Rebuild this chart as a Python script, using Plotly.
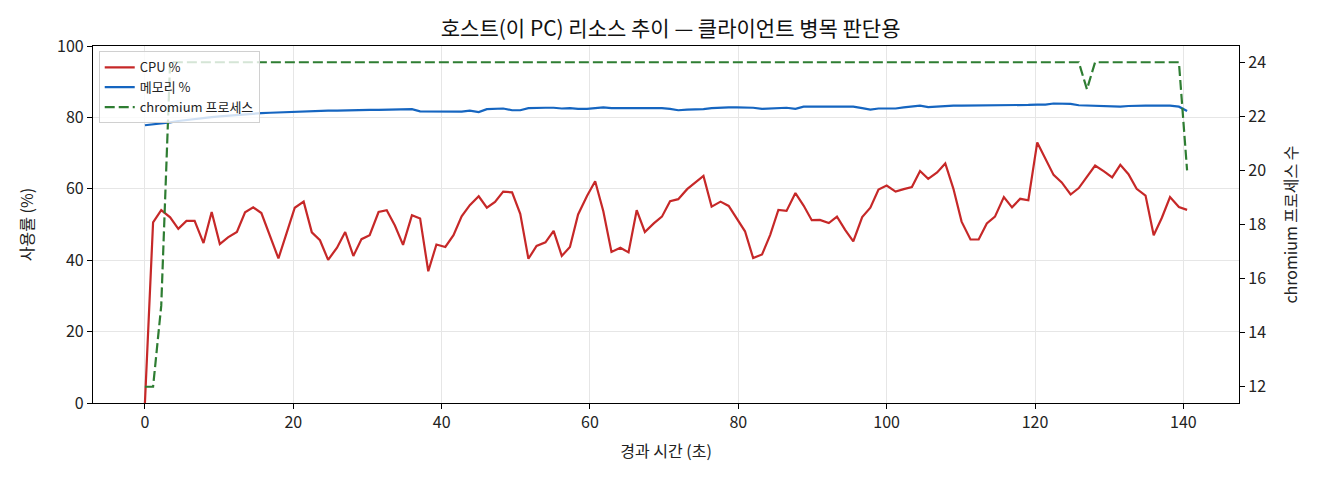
import plotly.graph_objects as go

# elapsed time (s)
time_s = [0.0, 1.1, 2.2, 3.4, 4.5, 5.6, 6.7, 7.9, 9.0, 10.1, 11.2, 12.4, 13.5, 14.6, 15.7, 16.9,
          18.0, 19.1, 20.2, 21.4, 22.5, 23.6, 24.7, 25.9, 27.0, 28.1, 29.2, 30.3, 31.5, 32.6,
          33.7, 34.8, 36.0, 37.1, 38.2, 39.3, 40.5, 41.6, 42.7, 43.8, 45.0, 46.1, 47.2, 48.3,
          49.5, 50.6, 51.7, 52.8, 54.0, 55.1, 56.2, 57.3, 58.4, 59.6, 60.7, 61.8, 62.9, 64.1,
          65.2, 66.3, 67.4, 68.6, 69.7, 70.8, 71.9, 73.1, 74.2, 75.3, 76.4, 77.6, 78.7, 79.8,
          80.9, 82.0, 83.2, 84.3, 85.4, 86.5, 87.7, 88.8, 89.9, 91.0, 92.2, 93.3, 94.4, 95.5,
          96.7, 97.8, 98.9, 100.0, 101.2, 102.3, 103.4, 104.5, 105.6, 106.8, 107.9, 109.0,
          110.1, 111.3, 112.4, 113.5, 114.6, 115.8, 116.9, 118.0, 119.1, 120.3, 121.4, 122.5,
          123.6, 124.8, 125.9, 127.0, 128.1, 129.3, 130.4, 131.5, 132.6, 133.7, 134.9, 136.0,
          137.1, 138.2, 139.4, 140.5]

cpu_pct = [0.0, 50.6, 54.0, 52.0, 48.8, 51.0, 51.0, 44.8, 53.5, 44.5, 46.4, 47.9, 53.4, 54.8,
           53.2, 46.6, 40.5, 47.6, 54.7, 56.4, 47.8, 45.6, 40.1, 43.5, 47.9, 41.2, 45.9, 47.0,
           53.5, 54.0, 49.7, 44.3, 52.6, 51.7, 36.9, 44.4, 43.7, 47.0, 52.3, 55.4, 57.9, 54.7,
           56.3, 59.2, 59.0, 53.0, 40.4, 44.0, 45.0, 48.2, 41.2, 43.7, 52.8, 58.0, 62.1, 53.7,
           42.3, 43.5, 42.2, 54.0, 47.9, 50.3, 52.2, 56.5, 57.1, 59.9, 61.8, 63.6, 55.0, 56.4,
           55.2, 51.6, 48.1, 40.6, 41.6, 47.1, 54.1, 53.8, 58.8, 55.3, 51.2, 51.3, 50.4, 52.2,
           48.5, 45.3, 52.1, 54.7, 59.8, 60.9, 59.2, 59.9, 60.5, 65.0, 62.8, 64.6, 67.1, 60.0,
           50.8, 45.8, 45.8, 50.3, 52.2, 57.7, 54.8, 57.2, 56.8, 73.0, 68.5, 63.9, 61.8, 58.4,
           60.2, 63.2, 66.5, 64.9, 63.2, 66.7, 64.1, 60.0, 58.1, 47.0, 51.9, 57.7, 54.9, 54.1]

mem_pct = [77.8, 78.0, 78.2, 78.6, 79.0, 79.3, 79.6, 79.9, 80.1, 80.3, 80.5, 80.7, 80.9, 81.0,
           81.2, 81.3, 81.4, 81.5, 81.6, 81.7, 81.7, 81.8, 81.9, 81.9, 82.0, 82.0, 82.0, 82.1,
           82.1, 82.1, 82.2, 82.3, 82.3, 81.7, 81.7, 81.8, 81.8, 81.7, 81.6, 81.9, 81.5, 82.3,
           82.5, 82.5, 82.0, 82.0, 82.6, 82.7, 82.7, 82.7, 82.5, 82.6, 82.4, 82.4, 82.5, 82.8,
           82.6, 82.6, 82.6, 82.7, 82.6, 82.5, 82.6, 82.4, 82.0, 82.2, 82.2, 82.3, 82.6, 82.8,
           82.8, 82.8, 82.8, 82.7, 82.4, 82.5, 82.5, 82.7, 82.4, 83.0, 83.0, 83.0, 83.0, 83.0,
           83.0, 83.0, 82.6, 82.2, 82.5, 82.5, 82.5, 82.8, 83.0, 83.3, 82.9, 83.1, 83.3, 83.3,
           83.3, 83.3, 83.3, 83.3, 83.3, 83.3, 83.3, 83.3, 83.5, 83.6, 83.6, 83.9, 83.8, 83.8,
           83.4, 83.3, 83.2, 83.0, 83.0, 83.0, 83.2, 83.3, 83.3, 83.3, 83.3, 83.3, 83.0, 81.8]

chromium_cnt = [12, 12, 15] + [24] * 110 + [23] + [24] * 11 + [20]

x_ticks = [0, 20, 40, 60, 80, 100, 120, 140]
y_ticks = [0, 20, 40, 60, 80, 100]
y2_ticks = [12, 14, 16, 18, 20, 22, 24]

FONT = "Noto Sans CJK KR, Noto Sans, sans-serif"

fig = go.Figure()
fig.add_trace(go.Scatter(x=time_s, y=cpu_pct, mode="lines", name="CPU %",
                         line=dict(color="#c62828", width=2.2)))
fig.add_trace(go.Scatter(x=time_s, y=mem_pct, mode="lines", name="메모리 %",
                         line=dict(color="#1565c0", width=2.2)))
fig.add_trace(go.Scatter(x=time_s, y=chromium_cnt, mode="lines", name="chromium 프로세스",
                         line=dict(color="#2e7d32", width=2.2, dash="10px,4px"), yaxis="y2"))

axis_common = dict(showline=True, linecolor="black", linewidth=1.3, ticks="outside",
                   ticklen=5, tickcolor="black", tickfont=dict(size=16, color="#222"),
                   zeroline=False, automargin=False)

fig.update_layout(
    width=1320, height=480,
    paper_bgcolor="white", plot_bgcolor="white",
    font=dict(family=FONT, color="#222"),
    margin=dict(l=85, r=89, t=38, b=85, autoexpand=False),
    title=dict(text="호스트(이 PC) 리소스 추이 — 클라이언트 병목 판단용", x=0.502, xanchor="center",
               y=0.958, yanchor="middle", font=dict(size=21, color="#111")),
    xaxis=dict(range=[-7.0, 147.5], tickvals=x_ticks, mirror=True,
               showgrid=True, gridcolor="#e6e6e6", gridwidth=1,
               title=dict(text="경과 시간 (초)", font=dict(size=16), standoff=13),
               **axis_common),
    yaxis=dict(range=[0, 100], tickvals=y_ticks, mirror=True,
               showgrid=True, gridcolor="#e6e6e6", gridwidth=1,
               title=dict(text="사용률 (%)", font=dict(size=16), standoff=19),
               **axis_common),
    yaxis2=dict(range=[11.4, 24.6], tickvals=y2_ticks, overlaying="y", side="right",
                showgrid=False,
                title=dict(text="chromium 프로세스 수", font=dict(size=16), standoff=20),
                **axis_common),
    legend=dict(x=0.005, y=0.985, xanchor="left", yanchor="top",
                bgcolor="rgba(255,255,255,0.8)", bordercolor="#d0d0d0", borderwidth=1,
                font=dict(size=13, color="#222"), tracegroupgap=0, itemwidth=30),
    showlegend=True,
)

fig.write_html("out.html")
